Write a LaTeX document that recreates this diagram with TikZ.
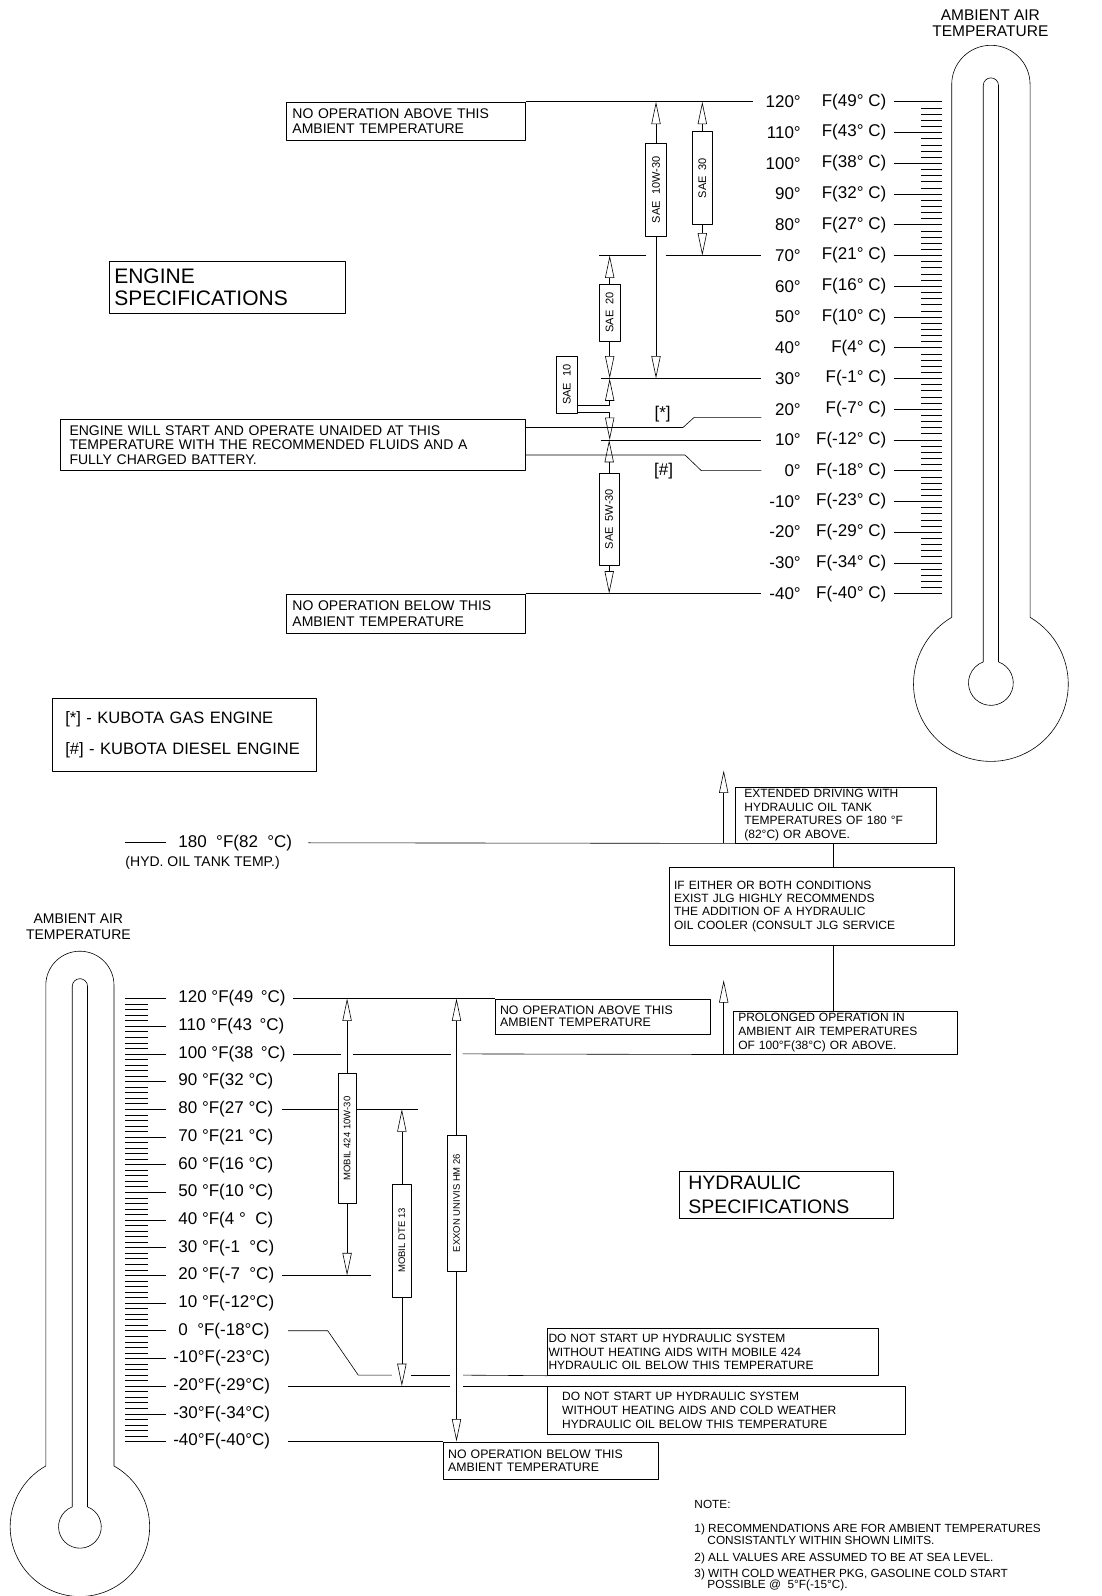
\documentclass[tikz,border=0pt]{standalone}
\usepackage{fontspec}
\setmainfont{Liberation Sans}
\usetikzlibrary{arrows.meta}

\begin{document}
\begin{tikzpicture}[>=latex,line join=bevel,x=1.018pt,y=-1.018pt,line width=0.6pt,
  box/.style={draw,anchor=north west,align=left,inner ysep=0pt},
  oil/.style={draw,rotate=90,inner sep=0pt,font=\fontsize{11}{11}\selectfont},
  hoil/.style={draw,rotate=90,inner sep=0pt,font=\fontsize{9.5}{9.5}\selectfont},
  dim/.style={-{Triangle[open,length=22.4pt,width=9.2pt]}},
  tempF/.style={inner sep=0pt,font=\fontsize{17}{20}\selectfont},
  note/.style={anchor=west,align=left,inner sep=0pt,font=\fontsize{11.8}{12.2}\selectfont},
]
\useasboundingbox (0,0) rectangle (1082.6,1568);
%%
\node (node_rtherm) at (973,23) [align=center,inner sep=0pt,font=\fontsize{15.5}{16.3}\selectfont] {AMBIENT AIR\\TEMPERATURE};
\node (node_ltherm) at (77,910.5) [align=center,inner sep=0pt,font=\fontsize{14}{15.3}\selectfont] {AMBIENT AIR\\TEMPERATURE};
\draw (935,606.5) -- (935,83) arc[start angle=180,end angle=360,radius=38.5] -- (1012,606.5) arc[start angle=-59.56,end angle=239.56,radius=76] -- cycle;
\draw (966,650.3) -- (966,84) arc[start angle=180,end angle=360,radius=7.5] -- (981,650.3) arc[start angle=-70.06,end angle=250.06,radius=22] -- cycle;
\draw (45,1440.25) -- (45,968) arc[start angle=180,end angle=360,radius=33.5] -- (112,1440.25) arc[start angle=-60.72,end angle=240.72,radius=68.5] -- cycle;
\draw (71,1480.4) -- (71,969) arc[start angle=180,end angle=360,radius=7.5] -- (86,1480.4) arc[start angle=-69.08,end angle=249.08,radius=21] -- cycle;
%
\foreach \degf/\degc [count=\k from 0] in {120/49,110/43,100/38,90/32,80/27,70/21,60/16,50/10,40/4,30/-1,20/-7,10/-12,0/-18,-10/-23,-20/-29,-30/-34,-40/-40} {
  \node (node_ef\k) at (787,{100+30.2*\k}) [tempF,anchor=east] {\degf°};
  \node (node_ec\k) at (871,{100+30.2*\k}) [tempF,anchor=east] {F(\degc°\ C)};
  \draw (878,{100+30.2*\k}) -- (925,{100+30.2*\k});
}
\foreach \i in {0,...,80} \draw (905,{100+6.04*\i}) -- (925,{100+6.04*\i});
\foreach \lbl/\px [count=\k from 0] in {120 °F(49\,\ °C)/175,110 °F(43\,\ °C)/175,100 °F(38\,\ °C)/175,90 °F(32 °C)/175,80 °F(27 °C)/175,70 °F(21 °C)/175,60 °F(16 °C)/175,50 °F(10 °C)/175,40 °F(4 °\ \ C)/175,30 °F(-1\ \ °C)/175,20 °F(-7\ \ °C)/175,10 °F(-12°C)/175,0\ \ °F(-18°C)/175,-10°F(-23°C)/170,-20°F(-29°C)/170,-30°F(-34°C)/170,-40°F(-40°C)/170} {
  \node (node_hf\k) at (\px,{981+27.2*\k}) [tempF,anchor=west] {\lbl};
  \draw (123,{981+27.2*\k}) -- (163,{981+27.2*\k});
}
\foreach \i in {0,...,80} \draw (123,{981+5.44*\i}) -- (145,{981+5.44*\i});
%% engine
\node (node_eabove) at (281,100) [box,font=\fontsize{14}{15.3}\selectfont,inner xsep=6.1pt,text width=227pt,minimum width=239.2pt,minimum height=38.7pt] {NO OPERATION ABOVE THIS\\AMBIENT TEMPERATURE};
\node (node_espec) at (107,256) [box,font=\fontsize{21}{21.4}\selectfont,inner xsep=5.1pt,text width=226pt,minimum width=236.2pt,minimum height=52.9pt] {ENGINE\\SPECIFICATIONS};
\node (node_estart) at (59,412) [box,font=\fontsize{14}{14.8}\selectfont,inner xsep=9.2pt,text width=446.8pt,minimum width=465.2pt,minimum height=50.9pt] {ENGINE WILL START AND OPERATE UNAIDED AT THIS\\TEMPERATURE WITH THE RECOMMENDED FLUIDS AND A\\FULLY CHARGED BATTERY.};
\node (node_ebelow) at (281,583.2) [box,font=\fontsize{14}{15.3}\selectfont,inner xsep=6.1pt,text width=227pt,minimum width=239.2pt,minimum height=39.7pt] {NO OPERATION BELOW THIS\\AMBIENT TEMPERATURE};
\node (node_legend) at (51,686) [box,font=\fontsize{16.5}{30.5}\selectfont,inner xsep=13.2pt,text width=237.3pt,minimum width=263.7pt,minimum height=72.3pt] {[*] - KUBOTA GAS ENGINE\\{}[\#] - KUBOTA DIESEL ENGINE};
\node (node_gas) at (651,407) [tempF] {[*]};
\node (node_diesel) at (652,463) [tempF] {[\#]};
%
\node (node_sae10w30) at (644.5,186.5) [oil,minimum width=92.6pt,minimum height=21.4pt] {SAE\ \ 10W-30};
\node (node_sae30) at (690,175) [oil,minimum width=92.8pt,minimum height=20.4pt] {SAE\ \ 30};
\node (node_sae20) at (599,307) [oil,minimum width=57pt,minimum height=20.4pt] {SAE\ \ 20};
\node (node_sae10) at (557,378) [oil,minimum width=57pt,minimum height=20.4pt] {SAE\ \ 10};
\node (node_sae5w30) at (598.5,510) [oil,minimum width=92.6pt,minimum height=19.8pt] {SAE\ \ 5W-30};
%
\coordinate (c_e120) at (740,100);
\coordinate (c_e70l) at (588.7,251);
\coordinate (c_e70m) at (634.5,251);
\coordinate (c_e70n) at (654,251);
\coordinate (c_e70) at (748,251);
\coordinate (c_e30l) at (590,371.8);
\coordinate (c_e30) at (748,371.8);
\coordinate (c_gas1) at (671,420);
\coordinate (c_gas2) at (682,410);
\coordinate (c_gas) at (748,410);
\coordinate (c_e10l) at (590,432.2);
\coordinate (c_e10) at (748,432.2);
\coordinate (c_dsl1) at (673,447);
\coordinate (c_dsl2) at (689,462.4);
\coordinate (c_dsl) at (748,462.4);
\coordinate (c_em40) at (748,583.2);
\coordinate (c_s10a) at (567,397.7);
\coordinate (c_s10b) at (567,405.2);
\draw (node_eabove.north east) -- (c_e120);
\draw (c_e70l) -- (c_e70m);
\draw (c_e70n) -- (c_e70);
\draw (c_e30l) -- (c_e30);
\draw (node_estart.east |- c_gas1) -- (c_gas1) -- (c_gas2) -- (c_gas);
\draw (c_e10l) -- (c_e10);
\draw (node_estart.east |- c_dsl1) -- (c_dsl1) -- (c_dsl2) -- (c_dsl);
\draw (node_ebelow.north east) -- (c_em40);
\draw [dim] (node_sae10w30.east) -- (node_sae10w30.east |- c_e120);
\draw [dim] (node_sae10w30.west) -- (node_sae10w30.west |- c_e30);
\draw [dim] (node_sae30.east) -- (node_sae30.east |- c_e120);
\draw [dim] (node_sae30.west) -- (node_sae30.west |- c_e70);
\draw [dim] (node_sae20.east) -- (node_sae20.east |- c_e70);
\draw [dim] (node_sae20.west) -- (node_sae20.west |- c_e30);
\draw [dim] (c_s10a) -| (node_sae20.west |- c_e30);
\draw [dim] (c_s10b) -| (node_sae20.west |- c_e10);
\draw [dim] (node_sae5w30.east) -- (node_sae5w30.east |- c_e10);
\draw [dim] (node_sae5w30.west) -- (node_sae5w30.west |- c_em40);
%% hydraulic
\node (node_t180) at (175,828) [tempF,anchor=west] {180 \ °F(82 \ °C)};
\node (node_tank) at (123,848) [anchor=west,inner sep=0pt,font=\fontsize{14}{15}\selectfont] {(HYD. OIL TANK TEMP.)};
\node (node_hot) at (722,773) [box,font=\fontsize{12}{13.6}\selectfont,inner xsep=9.2pt,text width=183.2pt,minimum width=201.6pt,minimum height=56pt] {EXTENDED DRIVING WITH\\HYDRAULIC OIL TANK\\TEMPERATURES OF 180 °F\\(82°C) OR ABOVE.};
\node (node_cooler) at (657,852) [box,font=\fontsize{12}{13.3}\selectfont,inner xsep=5.1pt,text width=274.8pt,minimum width=285pt,minimum height=77.4pt] {IF EITHER OR BOTH CONDITIONS\\EXIST JLG HIGHLY RECOMMENDS\\THE ADDITION OF A HYDRAULIC\\OIL COOLER (CONSULT JLG SERVICE};
\node (node_long) at (720,993.5) [box,font=\fontsize{12}{13.9}\selectfont,inner xsep=5.1pt,text width=213.8pt,minimum width=224pt,minimum height=42.7pt] {PROLONGED OPERATION IN\\AMBIENT AIR TEMPERATURES\\OF 100°F(38°C) OR ABOVE.};
\node (node_habove) at (486,981) [box,font=\fontsize{12.3}{12.4}\selectfont,inner xsep=5.1pt,text width=205.6pt,minimum width=215.8pt,minimum height=35.1pt] {NO OPERATION ABOVE THIS\\AMBIENT TEMPERATURE};
\node (node_hspec) at (667,1150) [box,font=\fontsize{19.5}{23.4}\selectfont,inner xsep=9.2pt,text width=195.4pt,minimum width=213.8pt,minimum height=47.8pt] {HYDRAULIC\\SPECIFICATIONS};
\node (node_mobil) at (537.6,1305) [box,font=\fontsize{12}{13.7}\selectfont,inner xsep=1pt,text width=329pt,minimum width=331pt,minimum height=46.8pt] {DO NOT START UP HYDRAULIC SYSTEM\\WITHOUT HEATING AIDS WITH MOBILE 424\\HYDRAULIC OIL BELOW THIS TEMPERATURE};
\node (node_cold) at (537.6,1361.8) [box,font=\fontsize{12}{14}\selectfont,inner xsep=14.7pt,text width=328.3pt,minimum width=357.7pt,minimum height=47.6pt] {DO NOT START UP HYDRAULIC SYSTEM\\WITHOUT HEATING AIDS AND COLD WEATHER\\HYDRAULIC OIL BELOW THIS TEMPERATURE};
\node (node_hbelow) at (435,1416.2) [box,font=\fontsize{12.3}{13.2}\selectfont,inner xsep=5.1pt,text width=204.6pt,minimum width=214.8pt,minimum height=37.7pt] {NO OPERATION BELOW THIS\\AMBIENT TEMPERATURE};
%
\node (node_m424) at (341,1118.6) [hoil,minimum width=130.1pt,minimum height=18.3pt] {MOBIL 424 10W-30};
\node (node_dte) at (394.8,1218.8) [hoil,minimum width=112.5pt,minimum height=18.7pt] {MOBIL DTE 13};
\node (node_exxon) at (448.5,1181.9) [hoil,minimum width=136.1pt,minimum height=18.7pt] {EXXON UNIVIS HM 26};
%
\coordinate (c_h180l) at (123,828);
\coordinate (c_h180m) at (163,828);
\coordinate (c_h180r) at (303,828);
\coordinate (c_hot) at (711,828);
\coordinate (c_hottip) at (711,757);
\coordinate (c_link) at (819,828);
\coordinate (c_h120) at (288,981);
\coordinate (c_h100a) at (288,1035.4);
\coordinate (c_h100b) at (335,1035.4);
\coordinate (c_h100c) at (347,1035.4);
\coordinate (c_h100d) at (443.5,1035.4);
\coordinate (c_h100e) at (454.5,1035.4);
\coordinate (c_long) at (711,1035.4);
\coordinate (c_longtip) at (711,963);
\coordinate (c_h80a) at (277,1089.8);
\coordinate (c_h80b) at (411,1089.8);
\coordinate (c_h20a) at (277,1253);
\coordinate (c_h20b) at (364,1253);
\coordinate (c_h0a) at (283,1307.4);
\coordinate (c_h0b) at (322,1307.4);
\coordinate (c_h0c) at (352,1351);
\coordinate (c_h0d) at (385,1351);
\coordinate (c_h0e) at (404,1351);
\coordinate (c_h0f) at (442,1351);
\coordinate (c_h0g) at (455,1351);
\coordinate (c_hm20a) at (283,1361.8);
\coordinate (c_hm20b) at (442,1361.8);
\coordinate (c_hm20c) at (455,1361.8);
\coordinate (c_hm40) at (283,1416.2);
\draw (c_h180l) -- (c_h180m);
\draw (c_h180r) -- (node_hot.south west);
\draw [dim] (c_hot) -- (c_hottip);
\draw (c_link) -- (c_link |- node_cooler.north);
\draw (c_link |- node_cooler.south) -- (c_link |- node_long.north);
\draw (c_h120) -- (node_habove.north west);
\draw (c_h100a) -- (c_h100b);
\draw (c_h100c) -- (c_h100d);
\draw (c_h100e) -- (node_long.south west);
\draw [dim] (c_long) -- (c_longtip);
\draw (c_h80a) -- (c_h80a -| node_m424.north);
\draw (c_h80a -| node_m424.south) -- (c_h80b);
\draw (c_h20a) -- (c_h20b);
\draw (c_h0a) -- (c_h0b) -- (c_h0c) -- (c_h0d);
\draw (c_h0e) -- (c_h0f);
\draw (c_h0g) -- (node_mobil.south west);
\draw (c_hm20a) -- (c_hm20b);
\draw (c_hm20c) -- (node_cold.north west);
\draw (c_hm40) -- (node_hbelow.north west);
\draw [dim] (node_m424.east) -- (node_m424.east |- c_h120);
\draw [dim] (node_m424.west) -- (node_m424.west |- c_h20a);
\draw [dim] (node_dte.east) -- (node_dte.east |- c_h80a);
\draw [dim] (node_dte.west) -- (node_dte.west |- c_hm20a);
\draw [dim] (node_exxon.east) -- (node_exxon.east |- c_h120);
\draw [dim] (node_exxon.west) -- (node_exxon.west |- c_hm40);
%% notes
\node (node_note) at (682,1478) [note] {NOTE:};
\node (node_note1) at (682,1507) [note] {1) RECOMMENDATIONS ARE FOR AMBIENT TEMPERATURES\\\hspace*{13pt}CONSISTANTLY WITHIN SHOWN LIMITS.};
\node (node_note2) at (682,1531) [note] {2) ALL VALUES ARE ASSUMED TO BE AT SEA LEVEL.};
\node (node_note3) at (682,1552.5) [note,font=\fontsize{11.8}{11.2}\selectfont] {3) WITH COLD WEATHER PKG, GASOLINE COLD START\\\hspace*{13pt}POSSIBLE @\ \ 5°F(-15°C).};
%
\end{tikzpicture}
\end{document}
